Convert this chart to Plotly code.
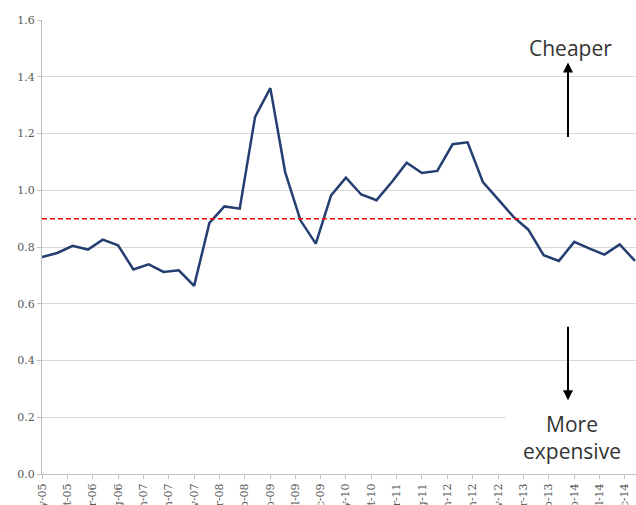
import pandas as pd
import plotly.graph_objects as go

# Quarterly observations, May 2005 to Feb 2015
quarters = pd.date_range("2005-05-01", periods=40, freq="3MS")
ratio = [
    0.765, 0.779, 0.804, 0.791, 0.826, 0.806, 0.721, 0.739, 0.712, 0.718,
    0.663, 0.885, 0.943, 0.935, 1.258, 1.360, 1.064, 0.894, 0.812, 0.982,
    1.044, 0.985, 0.965, 1.029, 1.097, 1.061, 1.068, 1.162, 1.169, 1.029,
    0.968, 0.906, 0.861, 0.771, 0.751, 0.818, 0.795, 0.773, 0.809, 0.751,
]
threshold = 0.90
y_ticks = [0.0, 0.2, 0.4, 0.6, 0.8, 1.0, 1.2, 1.4, 1.6]

axis_grey = "#BFBFBF"
label_grey = "#595959"
text_dark = "#333333"

fig = go.Figure()
fig.add_trace(go.Scatter(
    x=quarters, y=ratio, mode="lines",
    line=dict(color="#253E72", width=2.5),
    showlegend=False, hoverinfo="skip",
))
fig.add_hline(y=threshold, line=dict(color="#FF0000", width=1.5, dash="5px,3px"))

# Direction labels with arrows
fig.add_annotation(
    x=0.889, xref="paper", y=1.503, yref="y", text="Cheaper", showarrow=False,
    xanchor="center", yanchor="middle",
    font=dict(family="Open Sans", size=21, color=text_dark),
)
fig.add_annotation(
    x=0.8855, xref="paper", y=1.45, yref="y", text="", showarrow=True,
    axref="pixel", ayref="pixel", ax=0, ay=76,
    arrowhead=2, arrowsize=1, arrowwidth=2, arrowcolor="#000000",
)
fig.add_annotation(
    x=0.8855, xref="paper", y=0.26, yref="y", text="", showarrow=True,
    axref="pixel", ayref="pixel", ax=0, ay=-75,
    arrowhead=2, arrowsize=1, arrowwidth=2, arrowcolor="#000000",
)
fig.add_annotation(
    x=0.892, xref="paper", y=0.13, yref="y", text="More<br>expensive",
    showarrow=False, bgcolor="#FFFFFF", width=128, borderpad=2,
    xanchor="center", yanchor="middle",
    font=dict(family="Open Sans", size=21, color=text_dark),
)

fig.update_layout(
    template="none",
    width=636, height=505,
    margin=dict(l=42, r=0, t=20, b=31),
    paper_bgcolor="#FFFFFF", plot_bgcolor="#FFFFFF",
    showlegend=False,
    xaxis=dict(
        type="date", range=["2005-05-01", "2015-02-07"],
        tick0="2005-05-01", dtick="M5", tickformat="%b-%y", tickangle=-90,
        ticks="outside", ticklen=4, tickcolor=axis_grey,
        showline=True, linecolor=axis_grey, linewidth=1,
        showgrid=False, zeroline=False, automargin=False,
        tickfont=dict(family="DejaVu Serif", size=11, color=label_grey),
    ),
    yaxis=dict(
        range=[0, 1.6], tickvals=y_ticks, tickformat=".1f",
        ticks="outside", ticklen=4, tickcolor=axis_grey,
        showline=True, linecolor=axis_grey, linewidth=1,
        showgrid=True, gridcolor="#D9D9D9", gridwidth=1,
        zeroline=False, automargin=False,
        tickfont=dict(family="DejaVu Serif", size=11, color=label_grey),
    ),
)

fig.write_html("out.html")
